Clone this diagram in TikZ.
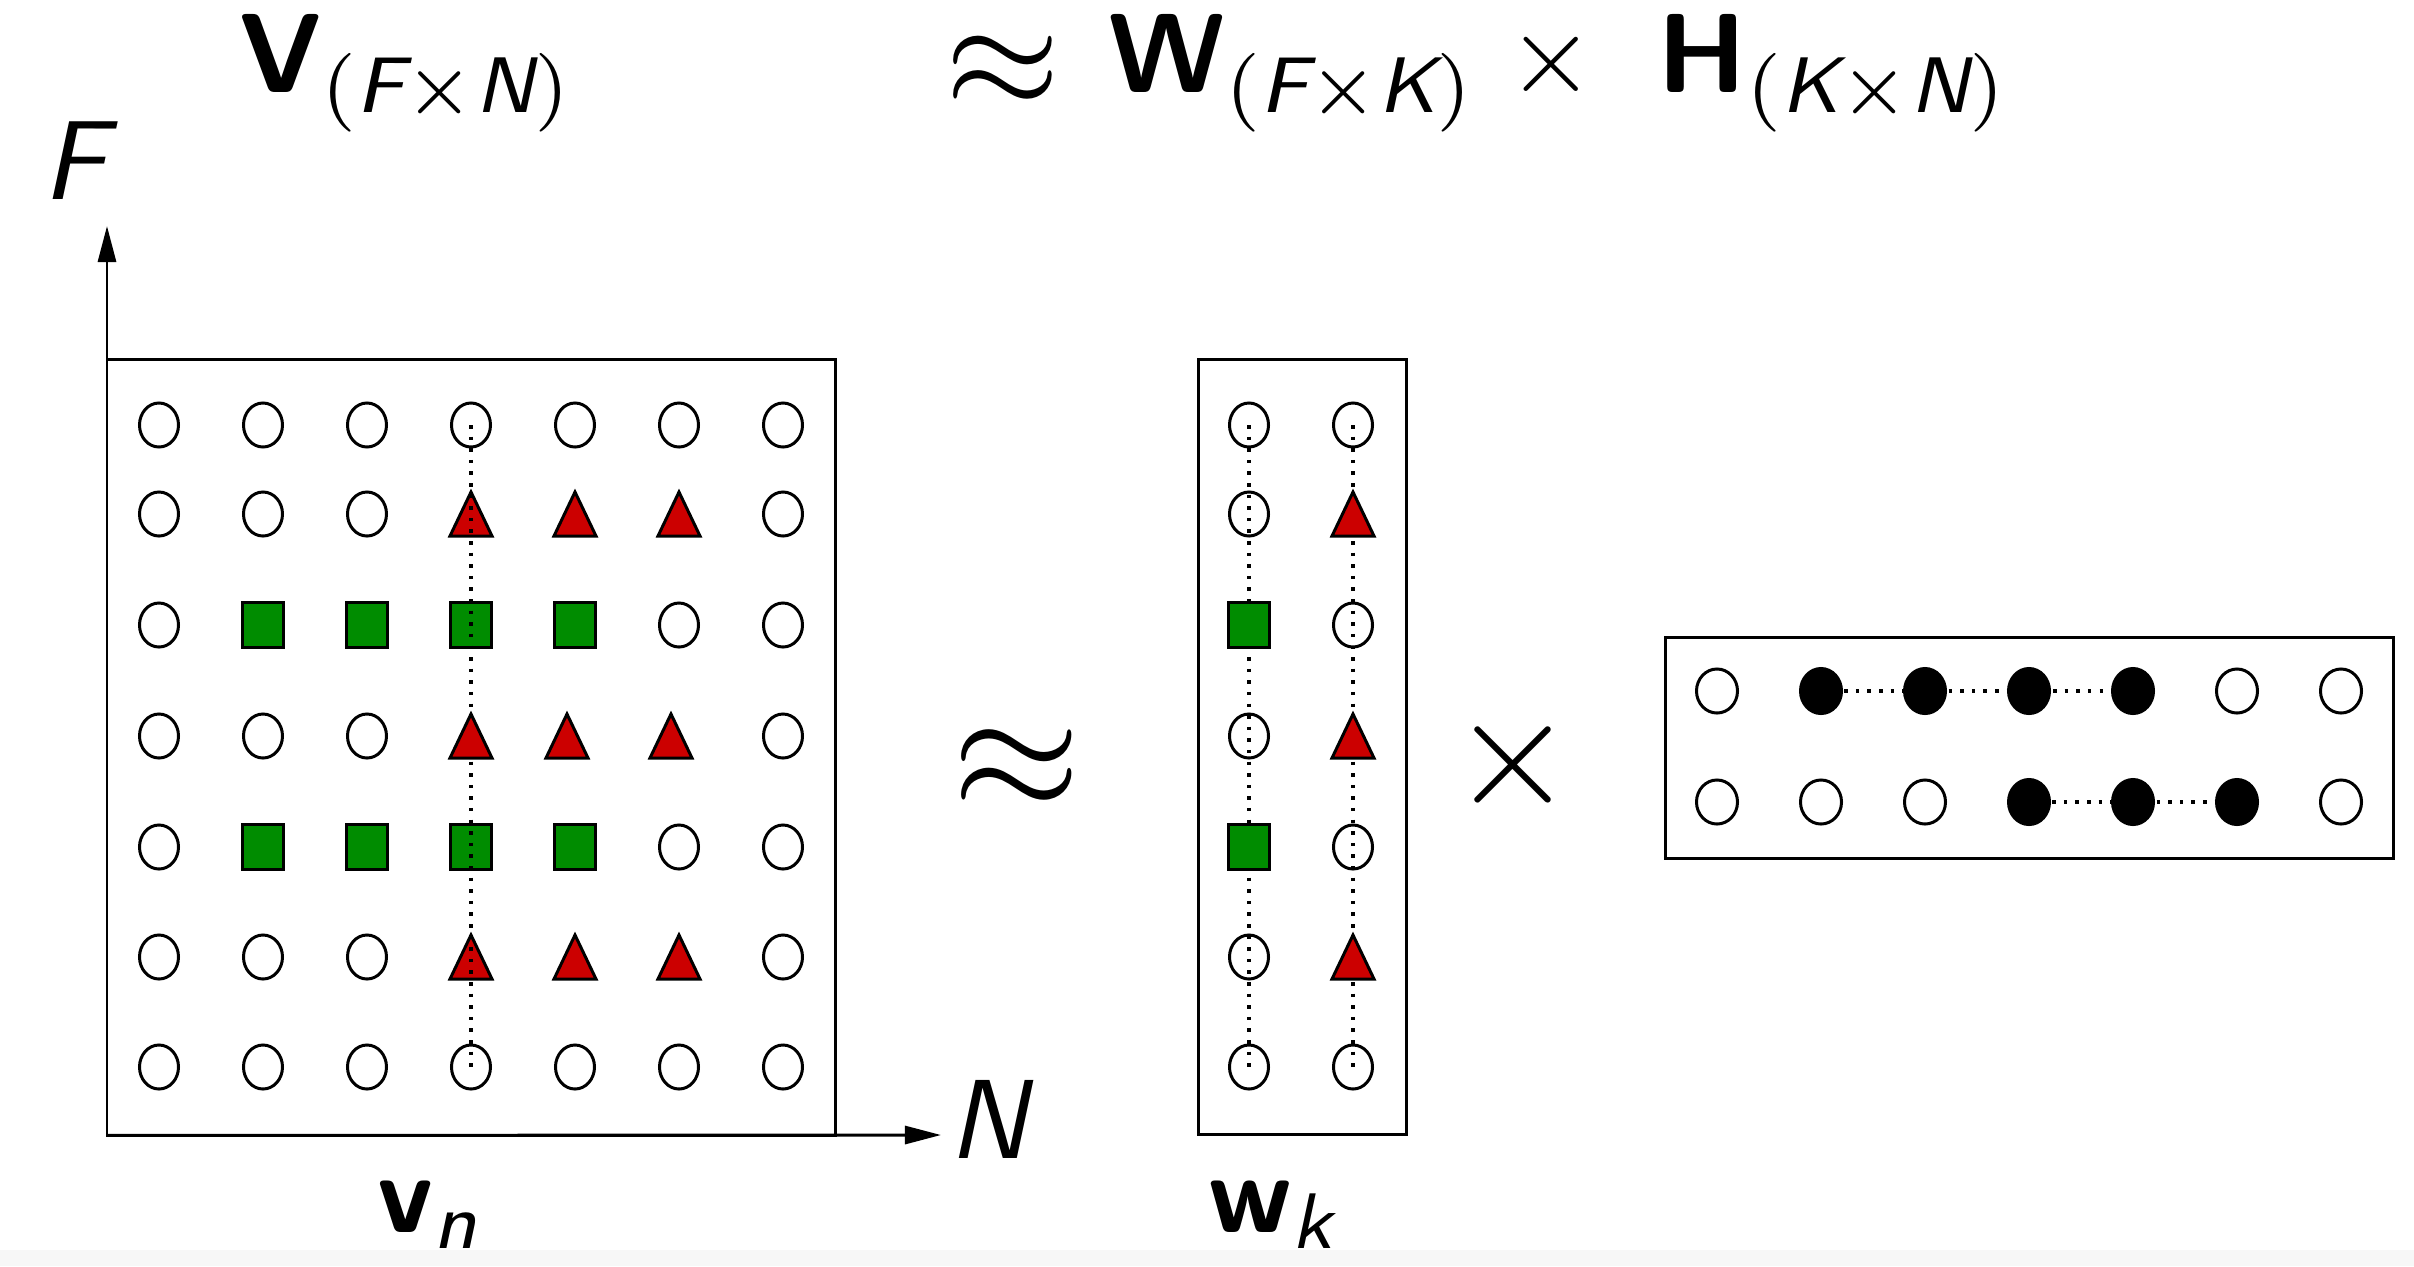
\documentclass[tikz,border=0pt]{standalone}
\usepackage{amsmath}
\usetikzlibrary{shapes.geometric,arrows.meta}
\definecolor{sqgreen}{RGB}{0,140,0}
\definecolor{trired}{RGB}{204,0,0}
\newcommand{\sfi}[1]{\textsf{\itshape #1}}
\tikzset{
  dot/.style={ellipse, draw, line width=0.85pt, minimum width=0.39cm, minimum height=0.44cm, inner sep=0pt, outer sep=0pt},
  fdot/.style={dot, fill=black, minimum width=0.41cm, minimum height=0.45cm},
  sq/.style={rectangle, draw, fill=sqgreen, line width=0.9pt, minimum width=0.41cm, minimum height=0.45cm, inner sep=0pt, outer sep=0pt},
  tri/.pic={\draw[fill=trired, line width=0.85pt] (-21,22) -- (21,22) -- (0,-22) -- cycle;},
  box/.style={draw, line width=0.85pt, inner sep=0pt, outer sep=0pt},
  dotline/.style={line width=0.9pt, dash pattern=on 1pt off 2.3pt},
  axis/.style={line width=0.85pt, -{Triangle[length=3.6mm,width=1.8mm]}},
  lbl/.style={inner sep=0pt, scale=3.2},
}
\begin{document}
\begin{tikzpicture}[x=0.01cm,y=-0.01cm]
\useasboundingbox (0,0) rectangle (2414,1266);
\fill[white] (0,0) rectangle (2414,1266);
\fill[black!3] (0,1250) rectangle (2414,1266);

% ---------- coordinates ----------
\foreach \r/\y in {1/425,2/514,3/625,4/736,5/847,6/957,7/1067}{
  \foreach \c in {1,...,7}{\coordinate (v-\r-\c) at ({159+104*(\c-1)},\y);}
  \coordinate (w-\r-1) at (1249,\y);
  \coordinate (w-\r-2) at (1353,\y);
}
\foreach \r/\y in {1/691,2/802}{
  \foreach \c in {1,...,7}{\coordinate (h-\r-\c) at ({1717+104*(\c-1)},\y);}
}

% ---------- V matrix ----------
\node[box, minimum width=7.28cm, minimum height=7.76cm, anchor=north west] (vbox) at (107,359) {};
\coordinate (ftip) at (107,226);
\coordinate (ntip) at (941,1135);
\draw[axis] (vbox.south west) -- (ftip);
\draw[axis] (vbox.south west) -- (ntip);

\foreach \rc in {1-1,1-2,1-3,1-4,1-5,1-6,1-7,
                 2-1,2-2,2-3,2-7,
                 3-1,3-6,3-7,
                 4-1,4-2,4-3,4-7,
                 5-1,5-6,5-7,
                 6-1,6-2,6-3,6-7,
                 7-1,7-2,7-3,7-4,7-5,7-6,7-7}
  \node[dot] (vn-\rc) at (v-\rc) {};
\foreach \rc in {3-2,3-3,3-4,3-5,5-2,5-3,5-4,5-5}
  \node[sq] (vn-\rc) at (v-\rc) {};
\foreach \rc in {2-4,2-5,2-6,6-4,6-5,6-6}
  \pic at (v-\rc) {tri};
\pic at ([xshift=-0.08cm]v-4-5) {tri};
\pic at ([xshift=-0.08cm]v-4-6) {tri};
\draw[dotline] (vn-1-4.center) -- (vn-7-4.center);
\pic at (v-4-4) {tri};

% ---------- W matrix ----------
\node[box, minimum width=2.08cm, minimum height=7.75cm, anchor=north west] (wbox) at (1198,359) {};
\draw[dotline] (w-1-1) -- (w-7-1);
\draw[dotline] (w-1-2) -- (w-7-2);
\foreach \r in {1,2,4,6,7} \node[dot] (wn-\r-1) at (w-\r-1) {};
\foreach \r in {3,5} \node[sq] (wn-\r-1) at (w-\r-1) {};
\foreach \r in {1,3,5,7} \node[dot] (wn-\r-2) at (w-\r-2) {};
\foreach \r in {2,4,6} \pic at (w-\r-2) {tri};

% ---------- H matrix ----------
\node[box, minimum width=7.28cm, minimum height=2.21cm, anchor=north west] (hbox) at (1665,637) {};
\draw[dotline] (h-1-2) -- (h-1-5);
\draw[dotline] (h-2-4) -- (h-2-6);
\foreach \rc in {1-1,1-6,1-7,2-1,2-2,2-3,2-7}
  \node[dot, minimum width=0.41cm, minimum height=0.44cm] (hn-\rc) at (h-\rc) {};
\foreach \rc in {1-2,1-3,1-4,1-5,2-4,2-5,2-6}
  \node[fdot] (hn-\rc) at (h-\rc) {};

% ---------- operators between matrices ----------
\node[inner sep=0pt, scale=4.7] (bigapprox) at (1017,770) {$\approx$};
\node[inner sep=0pt, scale=4.5] (bigtimes) at (1513,765) {$\times$};

% ---------- titles ----------
\node[lbl, anchor=base west] (tV) at (237,92) {\textsf{\bfseries V}$_{(\sfi{F}\times\sfi{N})}$};
\node[inner sep=0pt, scale=4.2] (tapprox) at (1003,72) {$\approx$};
\node[lbl, anchor=base west] (tW) at (1106,92) {\textsf{\bfseries W}$_{(\sfi{F}\times\sfi{K})}$};
\node[lbl, anchor=base] (ttimes) at (1551,92) {$\times$};
\node[lbl, anchor=base west] (tH) at (1655,92) {\textsf{\bfseries H}$_{(\sfi{K}\times\sfi{N})}$};

% ---------- axis and vector labels ----------
\node[lbl, anchor=base west] (Flab) at (40,199) {\sfi{F}};
\node[lbl, anchor=base west] (Nlab) at (946,1158) {\sfi{N}};
\node[lbl, anchor=base west] (vlab) at (375,1232) {\textsf{\bfseries v}$_{\sfi{n}}$};
\node[lbl, anchor=base west] (wlab) at (1206,1232) {\textsf{\bfseries w}$_{\sfi{k}}$};
\end{tikzpicture}
\end{document}
